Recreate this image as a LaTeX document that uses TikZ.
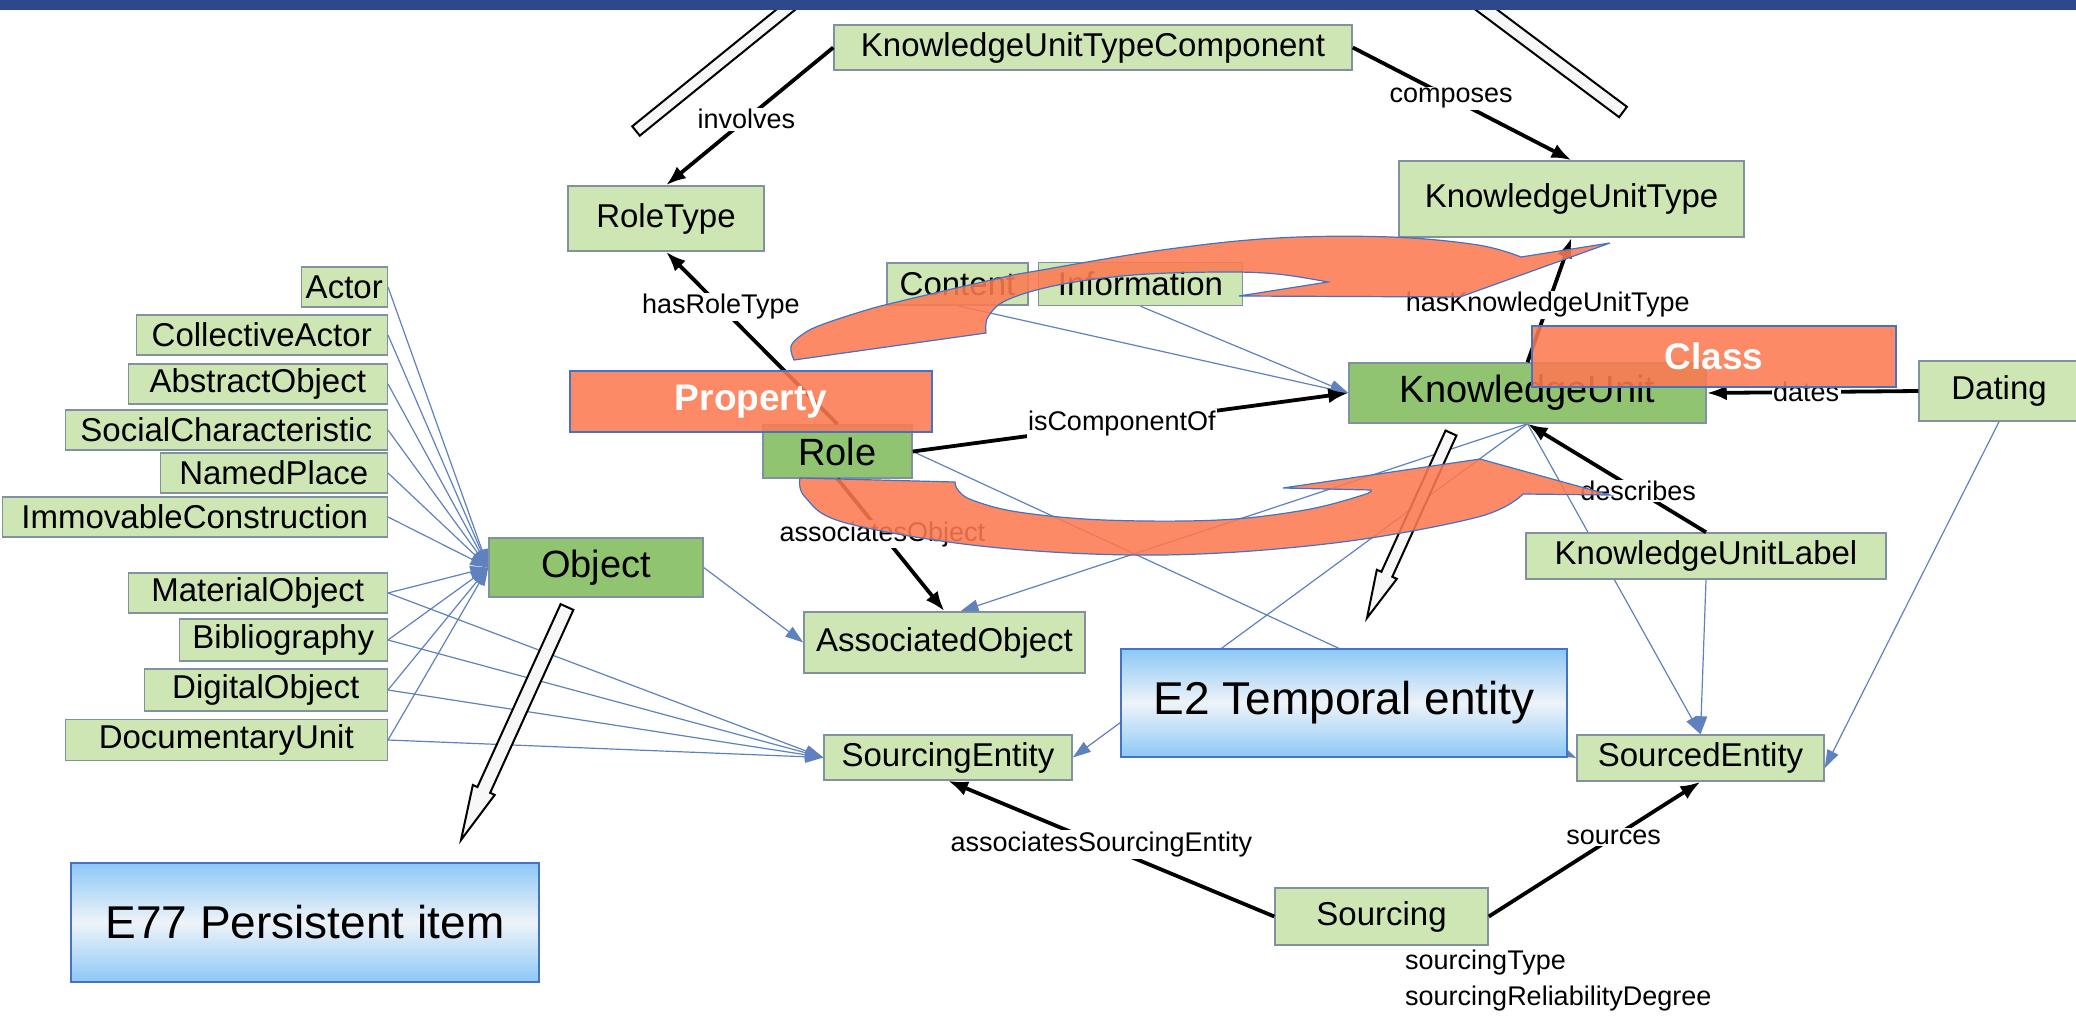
\documentclass[tikz,border=0pt]{standalone}
\usepackage{fontspec}
\setmainfont{Liberation Sans}
\usepackage{tikz}
\usetikzlibrary{positioning,arrows.meta,calc,backgrounds}
\definecolor{lgreen}{RGB}{206,229,180}
\definecolor{dgreen}{RGB}{145,196,112}
\definecolor{boxgray}{RGB}{128,146,158}
\definecolor{isablue}{RGB}{95,130,190}
\definecolor{coral}{RGB}{252,122,82}
\definecolor{tagblue}{RGB}{68,114,196}
\definecolor{sky}{RGB}{140,200,246}
\definecolor{pale}{RGB}{238,243,248}
\definecolor{navy}{RGB}{46,72,140}
\tikzset{
  cls/.style={draw=boxgray, line width=1.5pt, fill=lgreen, inner sep=0pt, font=\fontsize{33}{36}\selectfont},
  key/.style={cls, fill=dgreen, font=\fontsize{38}{42}\selectfont},
  ent/.style={draw=tagblue, line width=1.5pt, top color=sky, bottom color=sky, middle color=pale, inner sep=0pt, font=\fontsize{46}{50}\selectfont},
  tag/.style={draw=tagblue, line width=1.2pt, fill=coral, fill opacity=0.88, text opacity=1, text=white, inner sep=0pt, font=\bfseries\fontsize{37}{40}\selectfont},
  lbl/.style={fill=white, inner sep=1.5pt, font=\fontsize{27}{30}\selectfont},
  arr/.style={line width=3.8pt, -{Latex[length=20pt, width=15pt]}},
  isa/.style={draw=isablue, line width=1.2pt, -{Triangle[length=18pt, width=12pt]}},
  bar/.style={draw=black, line width=2pt, fill=gray!6},
  swirl/.style={draw=tagblue, line width=1.2pt, fill=coral, fill opacity=0.88},
}
\newcommand{\whitebar}[3]{%
  \filldraw[bar] ($(#1)!#3!90:(#2)$) -- ($(#2)!#3!-90:(#1)$) -- ($(#2)!#3!90:(#1)$) -- ($(#1)!#3!-90:(#2)$) -- cycle;}
\newcommand{\whitearrow}[5]{%
  \path (#2) coordinate (ht) ($(#2)!#5!(#1)$) coordinate (hb) (#1) coordinate (hs);
  \filldraw[bar] ($(hs)!#3!90:(ht)$) -- ($(hb)!#3!90:(ht)$) -- ($(hb)!#4!90:(ht)$) -- (ht)
    -- ($(hb)!#4!-90:(ht)$) -- ($(hb)!#3!-90:(ht)$) -- ($(hs)!#3!-90:(ht)$) -- cycle;}

\begin{document}
\begin{tikzpicture}[x=1pt, y=-1pt]
\useasboundingbox (0,0) rectangle (2076,1033);
\node[cls, minimum width=86, minimum height=40, anchor=east] (actor) at (388,287) {Actor};
\node[cls, minimum width=251, minimum height=40, anchor=east] (collactor) at (388,335) {CollectiveActor};
\node[cls, minimum width=259, minimum height=40, anchor=east] (abstract) at (388,384) {AbstractObject};
\node[cls, minimum width=322, minimum height=40, anchor=east] (social) at (388,430) {SocialCharacteristic};
\node[cls, minimum width=227, minimum height=40, anchor=east] (named) at (388,473) {NamedPlace};
\node[cls, minimum width=385, minimum height=40, anchor=east] (immov) at (388,517) {ImmovableConstruction};
\node[cls, minimum width=259, minimum height=40, anchor=east] (material) at (388,593) {MaterialObject};
\node[cls, minimum width=208, minimum height=42, anchor=east] (biblio) at (388,640) {Bibliography};
\node[cls, minimum width=243, minimum height=42, anchor=east] (digital) at (388,690) {DigitalObject};
\node[cls, minimum width=322, minimum height=41, anchor=east] (docunit) at (388,740) {DocumentaryUnit};

\node[cls, minimum width=518, minimum height=45] (kutc) at (1093,47.5) {KnowledgeUnitTypeComponent};
\node[cls, minimum width=196, minimum height=65] (roletype) at (666,218.5) {RoleType};
\node[cls, minimum width=345, minimum height=76] (kut) at (1571.5,199) {KnowledgeUnitType};
\node[cls, minimum width=141, minimum height=42] (content) at (957.5,284) {Content};
\node[cls, minimum width=204, minimum height=43, right=9pt of content] (information) {Information};
\node[key, minimum width=357, minimum height=60] (ku) at (1527.5,393) {KnowledgeUnit};
\node[cls, minimum width=160, minimum height=60] (dating) at (1999,391) {Dating};
\node[key, minimum width=149, minimum height=53] (role) at (837.5,451.5) {Role};
\node[key, minimum width=214, minimum height=59] (object) at (596,567.5) {Object};
\node[cls, minimum width=281, minimum height=61] (assoc) at (944.5,642.5) {AssociatedObject};
\node[cls, minimum width=248, minimum height=45] (srcing) at (948,757.5) {SourcingEntity};
\node[cls, minimum width=360, minimum height=46] (kulabel) at (1706,556) {KnowledgeUnitLabel};
\node[cls, minimum width=247, minimum height=46] (srced) at (1700.5,758) {SourcedEntity};
\node[cls, minimum width=213, minimum height=57] (sourcing) at (1381.5,916.5) {Sourcing};
\node[align=left, anchor=north west, inner sep=0pt, font=\fontsize{27}{36}\selectfont] (attrs) at (1405,950) {sourcingType\\sourcingReliabilityDegree};

\begin{scope}[on background layer]
\fill[white] (0,0) rectangle (2076,1033);
\foreach \n in {actor,collactor,abstract,social,named,immov,material,biblio,digital,docunit}
  \draw[isa] (\n.east) -- (object.west);
\foreach \n in {material,biblio,digital,docunit}
  \draw[isa] (\n.east) -- (srcing.west);
\draw[isa] (object.east) -- (assoc.west);
\draw[isa] (content.south) -- (ku.west); \draw[isa] (information.south) -- (ku.west);
\draw[isa] (ku.south) -- ([xshift=16pt]assoc.north); \draw[isa] (ku.south) -- (srcing.east);
\draw[isa] (ku.south) -- (srced.north); \draw[isa] (kulabel.south) -- (srced.north);
\draw[isa] (role.east) -- (srced.west); \draw[isa] (dating.south) -- ([yshift=-10pt]srced.east);
\end{scope}

\draw[arr] (kutc.west) -- node[lbl, pos=0.52] {involves} (roletype.north);
\draw[arr] (kutc.east) -- node[lbl, pos=0.45] {composes} (kut.north);
\draw[arr] (role.north) -- node[lbl, pos=0.68] {hasRoleType} (roletype.south);
\draw[arr] (role.south) -- node[lbl, pos=0.42] {associatesObject} (assoc.north);
\draw[arr] (role.east) -- node[lbl, pos=0.48] {isComponentOf} (ku.west);
\draw[arr] (ku.north) -- node[lbl, pos=0.46] {hasKnowledgeUnitType} (kut.south);
\draw[arr] (dating.west) -- node[lbl, pos=0.53] {dates} (ku.east);
\draw[arr] (kulabel.north) -- node[lbl, pos=0.38] {describes} (ku.south);
\draw[arr] (sourcing.west) -- node[lbl, pos=0.53] {associatesSourcingEntity} (srcing.south);
\draw[arr] (sourcing.east) -- node[lbl, pos=0.59] {sources} (srced.south);

\node[ent, minimum width=446, minimum height=108] (e2) at (1344,703) {E2 Temporal entity};
\node[ent, minimum width=468, minimum height=119] (e77) at (305,922.5) {E77 Persistent item};

\whitebar{810,-10}{636,131}{6pt}
\whitebar{1460,-10}{1623,112}{6.5pt}
\whitearrow{1451,433}{1367,618}{6pt}{11pt}{48pt}
\whitearrow{567,607}{461,840}{7pt}{12pt}{55pt}

\filldraw[swirl] plot[smooth, tension=0.6] coordinates {(794,360) (791,346) (803,334) (821,325) (860,312) (897,302) (1000,278) (1036,271) (1162,250) (1277,238) (1391,237) (1478,245) (1521,257)}
  -- (1610,243) -- (1460,297) -- (1239,296) -- (1328,282)
  -- plot[smooth, tension=0.6] coordinates {(1328,282) (1277,274) (1219,272) (1133,275) (1058,285) (1007,300) (988,317) (986,333)} -- cycle;
\filldraw[swirl] (800,478) -- (955,482)
  -- plot[smooth, tension=0.6] coordinates {(955,482) (958,490) (972,500) (1018,512) (1104,520) (1219,520) (1305,510) (1363,495) (1371,490)}
  -- (1283,488) -- (1480,459) -- (1610,495) -- (1523,494)
  -- plot[smooth, tension=0.6] coordinates {(1523,494) (1478,517) (1334,543) (1162,555) (990,547) (846,523) (805,497) (800,478)} -- cycle;

\node[tag, minimum width=362, minimum height=61] (property) at (751,401.5) {Property};
\node[tag, minimum width=364, minimum height=61] (class) at (1714,356.5) {Class};

\fill[navy] (0,0) rectangle (2076,10);
\end{tikzpicture}
\end{document}
